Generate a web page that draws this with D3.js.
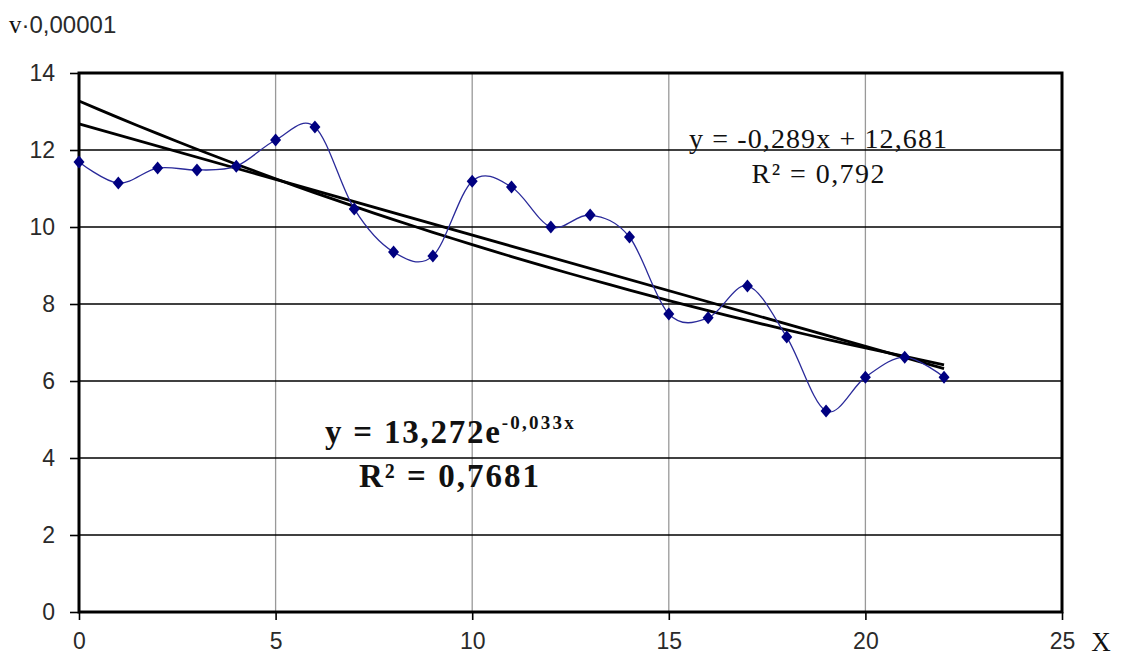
<!DOCTYPE html>
<html lang="ru">
<head>
<meta charset="UTF-8">
<title>v·0,00001</title>
<style>
    *{margin:0;padding:0;}
    html,body{width:100%;height:100%;background:#fff;}
    .tick text{font-family:"Liberation Sans",Arial,sans-serif;font-size:23px;fill:#2a2a2a;}
    .serif{font-family:"Liberation Serif","Times New Roman",serif;fill:#111;}
</style>
</head>
<body>
<svg id="chart" width="1123" height="656"></svg>
<script src="https://cdn.jsdelivr.net/npm/d3@7"></script>
<script>
    // данные
    var xs = [0,1,2,3,4,5,6,7,8,9,10,11,12,13,14,15,16,17,18,19,20,21,22];
    var vs = [11.69,11.14,11.53,11.48,11.58,12.26,12.6,10.47,9.35,9.25,11.19,11.04,
              10.0,10.31,9.74,7.74,7.64,8.47,7.14,5.22,6.1,6.62,6.1];
    var xTicks = [0,5,10,15,20,25];
    var yTicks = [0,2,4,6,8,10,12,14];
    // коэффициенты трендов (из подписей)
    var linA = -0.289, linB = 12.681;
    var expA = 13.272, expK = -0.033;

    drawChart();
    function drawChart() {
        var svg = d3.select("#chart");
        var pLeft = 79, pRight = 1062, pTop = 73, pBottom = 612;

        var x = d3.scaleLinear().domain([0,25]).range([pLeft,pRight]);
        var y = d3.scaleLinear().domain([0,14]).range([pBottom,pTop]);

        /*сетка*/
        svg.append("g").selectAll("line").data(xTicks.slice(1,-1)).enter().append("line")
            .attr("x1", d => x(d)).attr("x2", d => x(d))
            .attr("y1", pTop).attr("y2", pBottom)
            .attr("stroke", "#999").attr("stroke-width", 1.3);
        svg.append("g").selectAll("line").data(yTicks.slice(1,-1)).enter().append("line")
            .attr("x1", pLeft).attr("x2", pRight)
            .attr("y1", d => y(d)).attr("y2", d => y(d))
            .attr("stroke", "#000").attr("stroke-width", 1.6);

        /*оси*/
        var xAxis = svg.append("g").attr("transform", "translate(0," + pBottom + ")")
            .call(d3.axisBottom(x).tickValues(xTicks).tickSize(8).tickPadding(12).tickFormat(d3.format("d")));
        var yAxis = svg.append("g").attr("transform", "translate(" + pLeft + ",0)")
            .call(d3.axisLeft(y).tickValues(yTicks).tickSize(9).tickPadding(15).tickFormat(d3.format("d")));
        [xAxis, yAxis].forEach(function (g) {
            g.select(".domain").remove();
            g.selectAll(".tick line").attr("stroke", "#000").attr("stroke-width", 1.6);
        });
        xAxis.selectAll(".tick text").attr("dy", "0.75em");

        svg.append("rect")
            .attr("x", pLeft).attr("y", pTop)
            .attr("width", pRight - pLeft).attr("height", pBottom - pTop)
            .attr("fill", "none").attr("stroke", "#000").attr("stroke-width", 3);

        /*линии тренда*/
        var xr = [0, d3.max(xs)];
        var lineGen = d3.line().x(d => x(d[0])).y(d => y(d[1]));
        svg.append("path")
            .attr("d", lineGen(xr.map(t => [t, linA * t + linB])))
            .attr("fill", "none").attr("stroke", "#000").attr("stroke-width", 2.8);
        var expPts = d3.range(0, xr[1] + 0.01, 0.5).map(t => [t, expA * Math.exp(expK * t)]);
        svg.append("path")
            .attr("d", lineGen(expPts))
            .attr("fill", "none").attr("stroke", "#000").attr("stroke-width", 2.8);

        /*сглаженная линия данных*/
        var pts = xs.map((d, i) => [d, vs[i]]);
        svg.append("path")
            .attr("d", d3.line().x(d => x(d[0])).y(d => y(d[1])).curve(d3.curveCatmullRom.alpha(0))(pts))
            .attr("fill", "none").attr("stroke", "#2a2a9a").attr("stroke-width", 1.3);

        svg.append("g").selectAll("path").data(pts).enter().append("path")
            .attr("transform", d => "translate(" + x(d[0]) + "," + y(d[1]) + ")")
            .attr("d", "M0,-6.5L5.5,0L0,6.5L-5.5,0Z")
            .attr("fill", "#000080");

        /*подписи*/
        var yl = svg.append("text").attr("x", 9).attr("y", 33)
            .style("font-family", "'Liberation Sans',Arial,sans-serif").style("font-size", "24px").attr("fill", "#2a2a2a");
        yl.append("tspan").attr("class", "serif").style("font-size", "25px").text("v");
        yl.append("tspan").text("·0,00001");

        svg.append("text").attr("class", "serif").attr("x", 1101).attr("y", 651)
            .style("font-size", "27px").attr("text-anchor", "middle").text("X");

        svg.append("text").attr("class", "serif").attr("x", 818).attr("y", 148)
            .attr("text-anchor", "middle").style("font-size", "28px")
            .attr("textLength", 258).attr("lengthAdjust", "spacing")
            .text("y = -0,289x + 12,681");
        svg.append("text").attr("class", "serif").attr("x", 818).attr("y", 183)
            .attr("text-anchor", "middle").style("font-size", "28px")
            .attr("textLength", 133).attr("lengthAdjust", "spacing")
            .text("R² = 0,792");

        var eq = svg.append("text").attr("class", "serif").attr("x", 325).attr("y", 443)
            .style("font-size", "33px").style("font-weight", "bold");
        eq.append("tspan").attr("textLength", 175).attr("lengthAdjust", "spacing").text("y = 13,272e");
        eq.append("tspan").attr("dy", -14).style("font-size", "19px")
            .attr("textLength", 72).attr("lengthAdjust", "spacing").text("-0,033x");
        svg.append("text").attr("class", "serif").attr("x", 449).attr("y", 487)
            .attr("text-anchor", "middle").style("font-size", "33px").style("font-weight", "bold")
            .attr("textLength", 180).attr("lengthAdjust", "spacing")
            .text("R² = 0,7681");
    }
</script>
</body>
</html>
